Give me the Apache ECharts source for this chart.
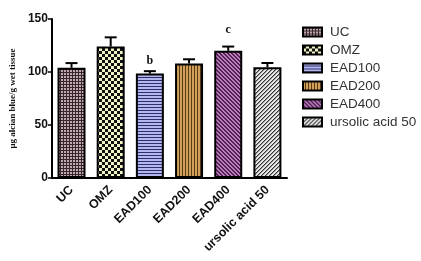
<!DOCTYPE html>
<html><head><meta charset="utf-8">
<script src="https://cdn.jsdelivr.net/npm/echarts@6/dist/echarts.min.js"></script>
<style>html,body{margin:0;padding:0;background:#fff}#c{width:421px;height:261px}</style>
</head><body><div id="c"></div>
<script>
var categories = ['UC', 'OMZ', 'EAD100', 'EAD200', 'EAD400', 'ursolic acid 50'];
var means = [104, 124, 98.5, 108, 120, 104.5];
var errors = [4.4, 8.7, 2.3, 4, 4, 4];
var sigLetters = ['', '', 'b', '', 'c', ''];
var sigPositions = [null, null, 110, null, 140, null];
var yTicks = [0, 50, 100, 150];

function tile(w, h, draw) {
  var c = document.createElement('canvas'); c.width = w; c.height = h;
  var g = c.getContext('2d'); draw(g, w, h); return c;
}
var patterns = [
  tile(3, 3, function (g) { g.fillStyle = '#c4a8b0'; g.fillRect(0,0,3,3); g.fillStyle = '#35262b'; g.fillRect(0,0,3,1); g.fillRect(0,0,1,3); }),
  tile(6, 6, function (g) { g.fillStyle = '#f2f3c4'; g.fillRect(0,0,6,6); g.fillStyle = '#111'; g.fillRect(0,0,3,3); g.fillRect(3,3,3,3); }),
  tile(3, 3, function (g) { g.fillStyle = '#b4b6ef'; g.fillRect(0,0,3,3); g.fillStyle = '#2c2f6a'; g.fillRect(0,2,3,1); }),
  tile(3, 3, function (g) { g.fillStyle = '#d0a05a'; g.fillRect(0,0,3,3); g.fillStyle = '#5a3c14'; g.fillRect(2,0,1,3); }),
  tile(4, 4, function (g) { g.fillStyle = '#c07ac0'; g.fillRect(0,0,4,4); g.fillStyle = '#4e2450'; for (var i=0;i<4;i++){ g.fillRect((i+3)%4, i, 1, 1); g.fillRect((i+2)%4, i, 1, 1);} }),
  tile(4, 4, function (g) { g.fillStyle = '#e8e8e8'; g.fillRect(0,0,4,4); g.fillStyle = '#333'; for (var i=0;i<4;i++){ g.fillRect((4-i)%4, i, 1, 1);} g.fillStyle = '#999'; for (var i=0;i<4;i++){ g.fillRect((5-i)%4, i, 1, 1);} })
];

var series = categories.map(function (name, i) {
  return {
    name: name, type: 'bar', stack: 'all', barWidth: 28,
    data: categories.map(function (_, j) { return j === i ? means[j] : '-'; }),
    itemStyle: { color: { image: patterns[i], repeat: 'repeat' }, borderColor: '#000', borderWidth: 2 },
    z: 3
  };
});
series.push({
  type: 'custom', name: 'err', z: 2,
  data: categories.map(function (_, i) { return [i, means[i], means[i] + errors[i]]; }),
  renderItem: function (params, api) {
    var i = api.value(0);
    var base = api.coord([i, api.value(1)]);
    var top = api.coord([i, api.value(2)]);
    var hw = 6;
    return { type: 'group', children: [
      { type: 'line', shape: { x1: base[0], y1: base[1], x2: top[0], y2: top[1] }, style: { stroke: '#000', lineWidth: 2 } },
      { type: 'line', shape: { x1: top[0] - hw, y1: top[1], x2: top[0] + hw, y2: top[1] }, style: { stroke: '#000', lineWidth: 2 } }
    ]};
  }
});
series.push({
  type: 'custom', name: 'sig', z: 4,
  data: categories.map(function (_, i) { return [i, sigPositions[i] == null ? 0 : sigPositions[i], sigLetters[i]]; }),
  renderItem: function (params, api) {
    var i = params.dataIndex;
    if (!sigLetters[i]) return null;
    var p = api.coord([i, sigPositions[i]]);
    return { type: 'text', x: p[0], y: p[1], style: { text: sigLetters[i], font: 'bold 12px "Liberation Serif", serif', fill: '#111', align: 'center', verticalAlign: 'middle' } };
  }
});

var chart = echarts.init(document.getElementById('c'), null, { renderer: 'canvas' });
chart.setOption({
  animation: false,
  grid: { left: 48, right: 134, top: 19, bottom: 83 },
  legend: {
    data: categories, orient: 'vertical', left: 297, top: 20, itemWidth: 19, itemHeight: 9, itemGap: 4,
    icon: 'rect', textStyle: { fontFamily: 'Liberation Sans, Arial', fontSize: 13.5, color: '#333', padding: [0, 0, 0, 3] }
  },
  xAxis: {
    type: 'category', data: categories,
    axisLine: { lineStyle: { color: '#000', width: 2 } },
    axisTick: { alignWithLabel: true, length: 5, lineStyle: { color: '#000', width: 1.5 } },
    axisLabel: { rotate: 45, fontFamily: 'Liberation Sans, Arial', fontWeight: 'bold', fontSize: 12.5, color: '#111', margin: 10, interval: 0 }
  },
  yAxis: {
    type: 'value', min: yTicks[0], max: yTicks[yTicks.length - 1], interval: 50,
    name: 'μg alcian blue/g wet tissue', nameLocation: 'middle', nameGap: 33,
    nameTextStyle: { fontFamily: 'Liberation Serif, serif', fontWeight: 'bold', fontSize: 9, color: '#111' },
    splitLine: { show: false },
    axisLine: { show: true, lineStyle: { color: '#000', width: 2 } },
    axisTick: { show: true, length: 4, lineStyle: { color: '#000', width: 1.5 } },
    axisLabel: { fontFamily: 'Liberation Sans, Arial', fontWeight: 'bold', fontSize: 12, color: '#111', margin: 4 }
  },
  series: series
});
</script></body></html>
